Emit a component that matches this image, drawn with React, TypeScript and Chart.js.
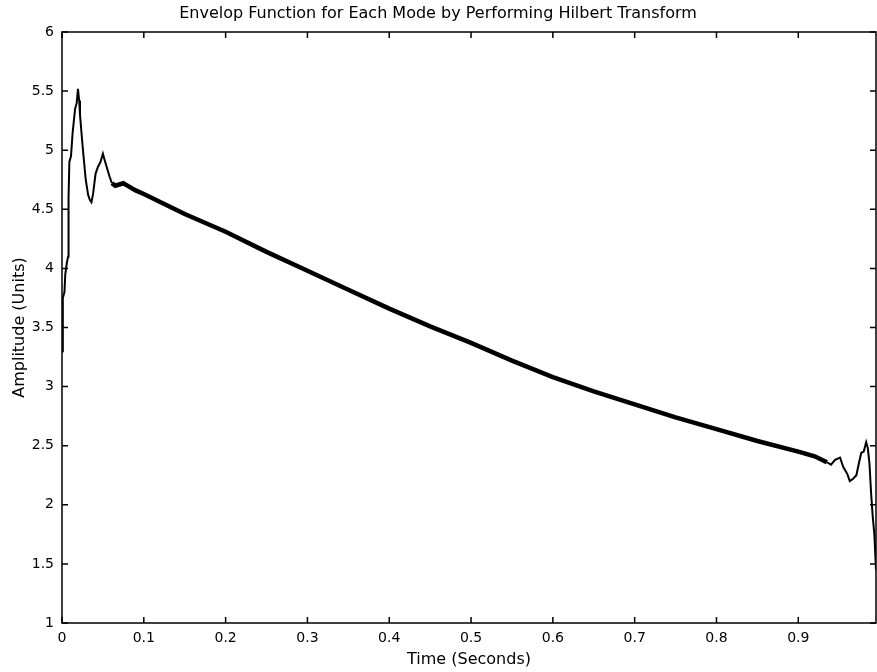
import React, { useEffect, useRef } from "react";
import { Chart, registerables } from "chart.js";

Chart.register(...registerables);

const timeSeconds: number[] = [
  0.0, 0.001, 0.003, 0.004, 0.006, 0.0075, 0.008, 0.009, 0.011, 0.013, 0.016, 0.018, 0.0195,
  0.021, 0.022, 0.025, 0.027, 0.029, 0.032, 0.034, 0.036, 0.038, 0.041, 0.044, 0.047, 0.05,
  0.052, 0.055, 0.058, 0.061, 0.065, 0.07, 0.075, 0.08, 0.09, 0.1, 0.15, 0.2, 0.25, 0.3, 0.35,
  0.4, 0.45, 0.5, 0.55, 0.6, 0.65, 0.7, 0.75, 0.8, 0.85, 0.9, 0.92, 0.935, 0.94, 0.945, 0.951,
  0.955, 0.96, 0.963, 0.967, 0.971, 0.974, 0.977, 0.98, 0.983, 0.985, 0.987, 0.989, 0.991,
  0.993, 0.995,
];

const amplitude: number[] = [
  3.3, 3.75, 3.8, 3.95, 4.05, 4.1, 4.6, 4.9, 4.95, 5.15, 5.35, 5.4, 5.52,
  5.42, 5.3, 5.05, 4.9, 4.75, 4.62, 4.58, 4.56, 4.63, 4.8, 4.86, 4.9, 4.97,
  4.92, 4.85, 4.78, 4.72, 4.7, 4.71, 4.72, 4.7, 4.66, 4.63, 4.46, 4.31, 4.14, 3.98, 3.82,
  3.66, 3.51, 3.37, 3.22, 3.08, 2.96, 2.85, 2.74, 2.64, 2.54, 2.45, 2.41, 2.36, 2.34, 2.38, 2.4,
  2.32, 2.26, 2.2, 2.22, 2.25, 2.35, 2.44, 2.45, 2.53, 2.48, 2.35, 2.1, 1.9,
  1.75, 1.45,
];

const xTicks: number[] = [0, 0.1, 0.2, 0.3, 0.4, 0.5, 0.6, 0.7, 0.8, 0.9];
const yTicks: number[] = [1, 1.5, 2, 2.5, 3, 3.5, 4, 4.5, 5, 5.5, 6];

const FONT = "'DejaVu Sans', 'Liberation Sans', Arial, sans-serif";

const frameTicks = {
  id: "frameTicks",
  afterDraw(chart: any) {
    const { ctx, chartArea } = chart;
    const { left, right, top, bottom } = chartArea;
    const xs = chart.scales.x;
    const ys = chart.scales.y;
    const len = 6;
    ctx.save();
    ctx.strokeStyle = "#000";
    ctx.lineWidth = 1.5;
    ctx.beginPath();
    ctx.rect(left, top, right - left, bottom - top);
    ctx.stroke();
    ctx.beginPath();
    for (const v of xTicks) {
      const px = xs.getPixelForValue(v);
      ctx.moveTo(px, bottom);
      ctx.lineTo(px, bottom - len);
      ctx.moveTo(px, top);
      ctx.lineTo(px, top + len);
    }
    for (const v of yTicks) {
      const py = ys.getPixelForValue(v);
      ctx.moveTo(left, py);
      ctx.lineTo(left + len, py);
      ctx.moveTo(right, py);
      ctx.lineTo(right - len, py);
    }
    ctx.stroke();
    ctx.restore();
  },
};

export default function App() {
  const ref = useRef<HTMLCanvasElement | null>(null);

  useEffect(() => {
    document.body.style.margin = "0";
    const canvas = ref.current;
    if (!canvas) return;
    const points = timeSeconds.map((t, i) => ({ x: t, y: amplitude[i] }));
    const chart = new Chart(canvas, {
      type: "line",
      data: {
        datasets: [
          {
            data: points,
            borderColor: "#000",
            borderWidth: 2,
            pointRadius: 0,
            tension: 0,
            segment: {
              borderWidth: (c: any) => {
                const x = c.p0.parsed.x;
                return x >= 0.06 && x < 0.93 ? 4.5 : 2;
              },
            },
          },
        ],
      },
      options: {
        animation: false,
        responsive: false,
        maintainAspectRatio: false,
        layout: { padding: { left: 0, right: 1, top: 0, bottom: 0 } },
        plugins: {
          legend: { display: false },
          tooltip: { enabled: false },
          title: {
            display: true,
            text: "Envelop Function for Each Mode by Performing Hilbert Transform",
            color: "#000",
            font: { family: FONT, size: 16, weight: "normal" },
            padding: { top: 4, bottom: 8.8 },
          },
        },
        scales: {
          x: {
            type: "linear",
            min: 0,
            max: 0.995,
            afterFit: (s: any) => {
              s.height = 49;
            },
            afterBuildTicks: (s: any) => {
              s.ticks = xTicks.map((v) => ({ value: v }));
            },
            grid: { display: false, drawTicks: false },
            border: { display: false },
            ticks: {
              color: "#000",
              font: { family: FONT, size: 14 },
              padding: 7,
              maxRotation: 0,
              autoSkip: false,
              callback: (v: any) => String(Number(v)),
            },
            title: {
              display: true,
              text: "Time (Seconds)",
              color: "#000",
              font: { family: FONT, size: 16 },
              padding: { top: 0, bottom: 3 },
            },
          },
          y: {
            type: "linear",
            min: 1,
            max: 6,
            afterFit: (s: any) => {
              s.width = 62;
            },
            afterBuildTicks: (s: any) => {
              s.ticks = yTicks.map((v) => ({ value: v }));
            },
            grid: { display: false, drawTicks: false },
            border: { display: false },
            ticks: {
              color: "#000",
              font: { family: FONT, size: 14 },
              padding: 8,
              autoSkip: false,
              callback: (v: any) => String(Number(v)),
            },
            title: {
              display: true,
              text: "Amplitude (Units)",
              color: "#000",
              font: { family: FONT, size: 16 },
              padding: { top: 10, bottom: 0 },
            },
          },
        },
      },
      plugins: [frameTicks],
    });
    return () => chart.destroy();
  }, []);

  return (
    <div style={{ width: 877, height: 672, background: "#fff" }}>
      <canvas ref={ref} width={877} height={672} style={{ display: "block" }} />
    </div>
  );
}
